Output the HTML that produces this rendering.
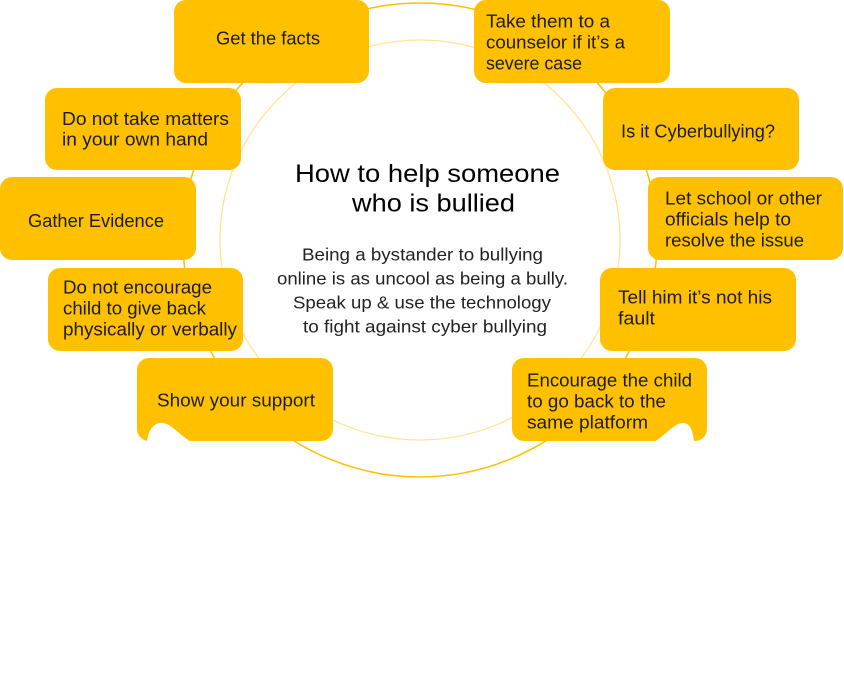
<!DOCTYPE html>
<html>
<head>
<meta charset="utf-8">
<style>
  html, body { margin:0; padding:0; background:#ffffff; }
  body { width:844px; height:679px; overflow:hidden; }
  svg { display:block; }
  .bx { font-family:"Liberation Sans", "DejaVu Sans", sans-serif; font-size:18.5px; fill:#1c1c1c; }
  .tt { font-family:"Liberation Sans", "DejaVu Sans", sans-serif; font-size:25px; fill:#000000; }
  .bd { font-family:"Liberation Sans", "DejaVu Sans", sans-serif; font-size:17.5px; fill:#222222; }
</style>
</head>
<body>
<svg width="844" height="679" viewBox="0 0 844 679" xmlns="http://www.w3.org/2000/svg">
  <rect x="0" y="0" width="844" height="679" fill="#ffffff"/>

  <!-- circles -->
  <circle cx="420" cy="240" r="237" fill="none" stroke="#FFC000" stroke-width="1.5"/>
  <circle cx="420" cy="240" r="200" fill="none" stroke="#FFE494" stroke-width="1.3"/>

  <!-- boxes -->
  <g fill="#FFC000">
    <rect x="174" y="0" width="195" height="83" rx="12"/>
    <rect x="474" y="0" width="196" height="83" rx="12"/>
    <rect x="45" y="88" width="196" height="82" rx="12"/>
    <rect x="0" y="177" width="196" height="83" rx="12"/>
    <rect x="48" y="268" width="195" height="83" rx="12"/>
    <rect x="137" y="358" width="196" height="83" rx="12"/>
    <rect x="603" y="88" width="196" height="82" rx="12"/>
    <rect x="648" y="177" width="195" height="83" rx="12"/>
    <rect x="600" y="268" width="196" height="83" rx="12"/>
    <rect x="512" y="358" width="195" height="83" rx="12"/>
  </g>

  <!-- notches -->
  <path d="M147,442 C148,432 152,424 160,423 C170,422 177,433 191,442 Z" fill="#ffffff"/>
  <path d="M654,442 C667,434 675,422 684,423 C691,424 693,432 694,442 Z" fill="#ffffff"/>

  <!-- box texts -->
  <text class="bx" x="216" y="44.5" textLength="104" lengthAdjust="spacingAndGlyphs">Get the facts</text>

  <text class="bx" x="486" y="27.5" textLength="124" lengthAdjust="spacingAndGlyphs">Take them to a</text>
  <text class="bx" x="486" y="48.5" textLength="139" lengthAdjust="spacingAndGlyphs">counselor if it’s a</text>
  <text class="bx" x="486" y="69.5" textLength="96" lengthAdjust="spacingAndGlyphs">severe case</text>

  <text class="bx" x="62" y="125" textLength="167" lengthAdjust="spacingAndGlyphs">Do not take matters</text>
  <text class="bx" x="62" y="145.5" textLength="146" lengthAdjust="spacingAndGlyphs">in your own hand</text>

  <text class="bx" x="28" y="227" textLength="136" lengthAdjust="spacingAndGlyphs">Gather Evidence</text>

  <text class="bx" x="63" y="293.5" textLength="149" lengthAdjust="spacingAndGlyphs">Do not encourage</text>
  <text class="bx" x="63" y="314.5" textLength="143" lengthAdjust="spacingAndGlyphs">child to give back</text>
  <text class="bx" x="63" y="335.5" textLength="174" lengthAdjust="spacingAndGlyphs">physically or verbally</text>

  <text class="bx" x="157" y="406.5" textLength="158" lengthAdjust="spacingAndGlyphs">Show your support</text>

  <text class="bx" x="621" y="137.5" textLength="154" lengthAdjust="spacingAndGlyphs">Is it Cyberbullying?</text>

  <text class="bx" x="665" y="204.5" textLength="157" lengthAdjust="spacingAndGlyphs">Let school or other</text>
  <text class="bx" x="665" y="225.5" textLength="126" lengthAdjust="spacingAndGlyphs">officials help to</text>
  <text class="bx" x="665" y="246.5" textLength="139" lengthAdjust="spacingAndGlyphs">resolve the issue</text>

  <text class="bx" x="618" y="303.5" textLength="154" lengthAdjust="spacingAndGlyphs">Tell him it’s not his</text>
  <text class="bx" x="618" y="324.5" textLength="37" lengthAdjust="spacingAndGlyphs">fault</text>

  <text class="bx" x="527" y="386.5" textLength="165" lengthAdjust="spacingAndGlyphs">Encourage the child</text>
  <text class="bx" x="527" y="407.5" textLength="139" lengthAdjust="spacingAndGlyphs">to go back to the</text>
  <text class="bx" x="527" y="428.5" textLength="121" lengthAdjust="spacingAndGlyphs">same platform</text>

  <!-- center title -->
  <text class="tt" x="295" y="182" textLength="265" lengthAdjust="spacingAndGlyphs">How to help someone</text>
  <text class="tt" x="352" y="211.5" textLength="163" lengthAdjust="spacingAndGlyphs">who is bullied</text>

  <!-- body -->
  <text class="bd" x="302" y="260.5" textLength="241" lengthAdjust="spacingAndGlyphs">Being a bystander to bullying</text>
  <text class="bd" x="277" y="284.5" textLength="291" lengthAdjust="spacingAndGlyphs">online is as uncool as being a bully.</text>
  <text class="bd" x="293" y="308.5" textLength="258" lengthAdjust="spacingAndGlyphs">Speak up &amp; use the technology</text>
  <text class="bd" x="303" y="332.5" textLength="244" lengthAdjust="spacingAndGlyphs">to fight against cyber bullying</text>
</svg>
</body>
</html>
